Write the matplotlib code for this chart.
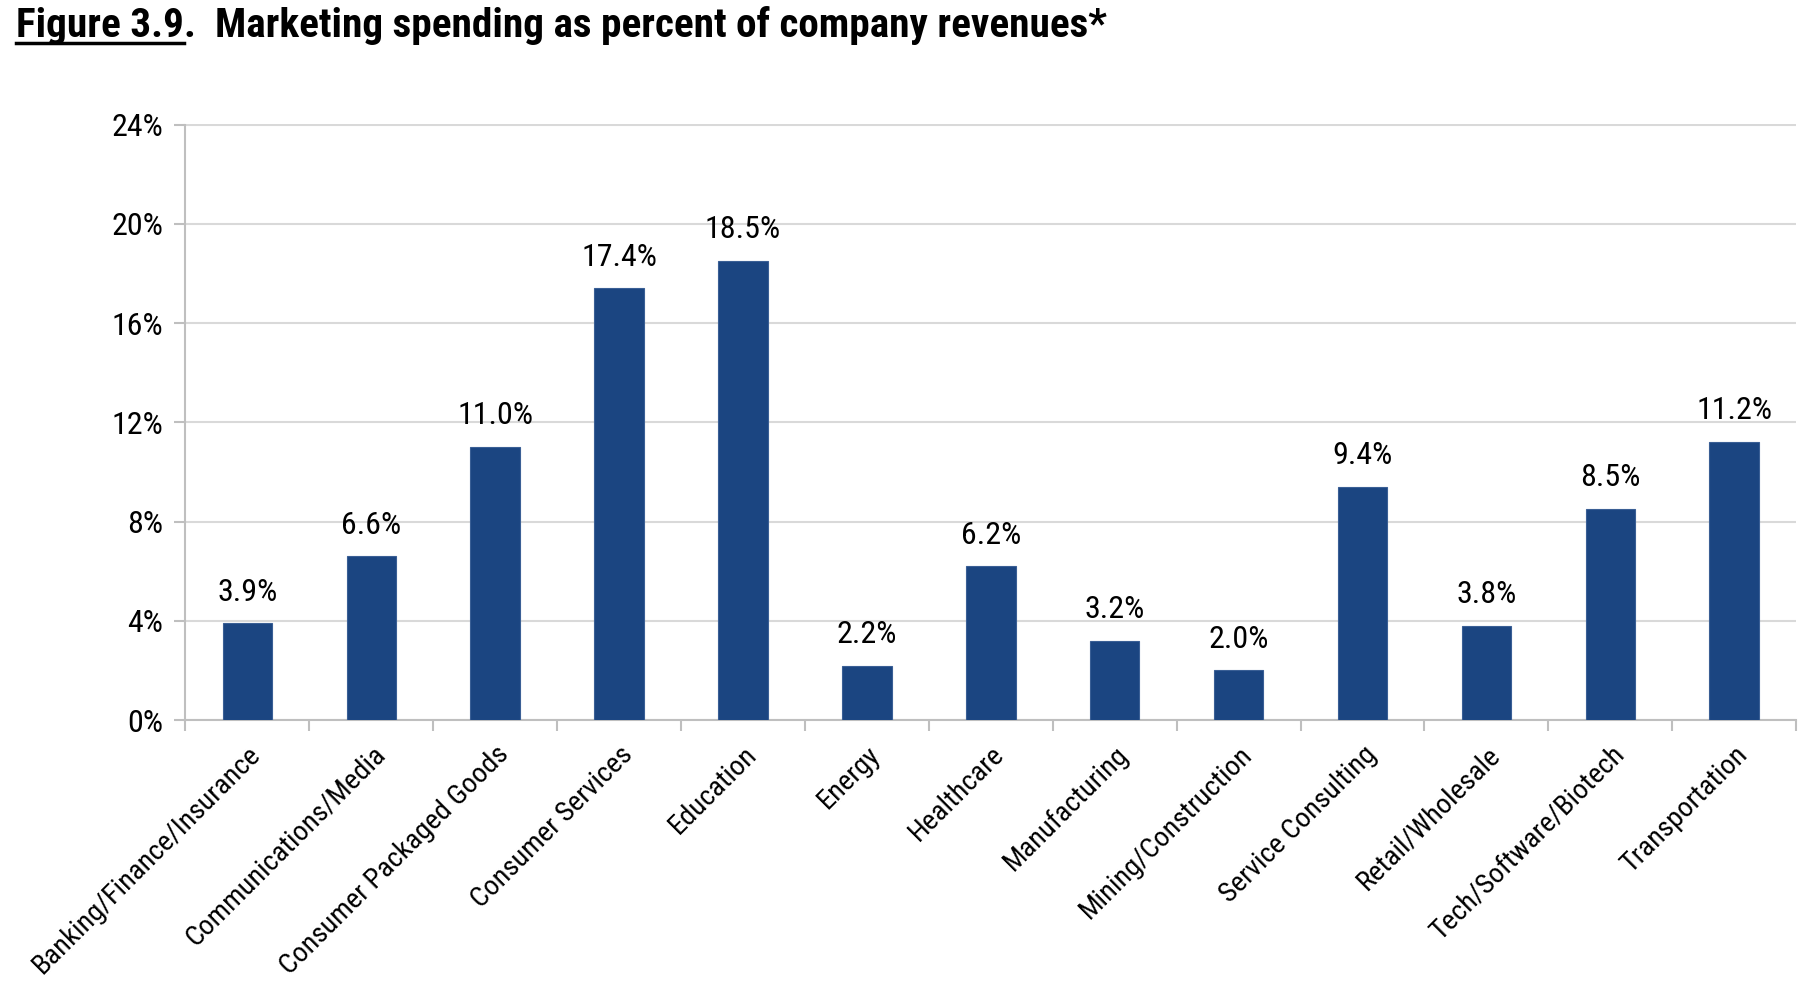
import matplotlib
matplotlib.use("Agg")
import matplotlib.pyplot as plt
from matplotlib import font_manager
from matplotlib.lines import Line2D
import numpy as np

# pick a narrow font (Arial Narrow look-alike) from what is installed
fonts = {}
for f in font_manager.fontManager.ttflist:
    fonts.setdefault(f.name, set()).add(f.weight)
body_font = next((n for n in ['Liberation Sans Narrow', 'Arial Narrow', 'Roboto Condensed',
                              'Archivo Narrow', 'Sofia Sans Condensed'] if n in fonts), 'Liberation Sans')
bold_font = next((n for n in ['Liberation Sans Narrow', 'Arial Narrow', 'Roboto Condensed',
                              'Asap Condensed', 'Sofia Sans Condensed', 'Archivo Narrow']
                  if n in fonts and max(fonts[n]) >= 700), body_font)
plt.rcParams['font.family'] = [body_font, 'DejaVu Sans']

categories = ["Banking/Finance/Insurance", "Communications/Media", "Consumer Packaged Goods",
              "Consumer Services", "Education", "Energy", "Healthcare", "Manufacturing",
              "Mining/Construction", "Service Consulting", "Retail/Wholesale",
              "Tech/Software/Biotech", "Transportation"]
values = [3.9, 6.6, 11.0, 17.4, 18.5, 2.2, 6.2, 3.2, 2.0, 9.4, 3.8, 8.5, 11.2]
y_ticks = [0, 4, 8, 12, 16, 20, 24]

bar_color = '#1b4581'
grid_color = '#d9d9d9'
axis_color = '#bfbfbf'

fig = plt.figure(figsize=(18.18, 9.96), dpi=100)
ax = fig.add_axes([0.102, 0.277, 0.886, 0.598])

x = np.arange(len(categories))
ax.bar(x, values, width=0.40, color=bar_color, edgecolor='#3a5f95', linewidth=0.8, zorder=3)

for xi, v in zip(x, values):
    ax.annotate(f"{v:.1f}%", (xi, v), xytext=(0, 12), textcoords='offset points',
                ha='center', va='bottom', fontsize=23, zorder=4)

ax.set_xlim(-0.5, len(categories) - 0.5)
ax.set_ylim(0, 24)
ax.set_yticks(y_ticks)
ax.set_yticklabels([f"{t}%" for t in y_ticks], fontsize=23)
ax.yaxis.grid(True, color=grid_color, linewidth=1.5, zorder=0)

ax.set_xticks(x)
ax.set_xticklabels(categories, rotation=45, ha='right', rotation_mode='anchor', fontsize=20.5)
ax.set_xticks(np.arange(-0.5, len(categories)), minor=True)
ax.tick_params(axis='x', which='major', length=0, pad=15)
ax.tick_params(axis='x', which='minor', length=8, color=axis_color, width=1.5)
ax.tick_params(axis='y', length=8, color=axis_color, width=1.5, pad=8)

for s in ['top', 'right']:
    ax.spines[s].set_visible(False)
for s in ['left', 'bottom']:
    ax.spines[s].set_color(axis_color)
    ax.spines[s].set_linewidth(1.5)

# title with underlined figure number, sized to span ~1090 px
W, H = fig.bbox.width, fig.bbox.height
r = fig.canvas.get_renderer()
tsize = 30
probe = fig.text(0, 0, "Figure 3.9.  Marketing spending as percent of company revenues*",
                 fontsize=tsize, fontweight='bold', family=bold_font)
tsize = tsize * 1089 / probe.get_window_extent(r).width
probe.remove()

ty = 0.963
t1 = fig.text(0.009, ty, "Figure 3.9", fontsize=tsize, fontweight='bold', family=bold_font,
              va='baseline')
bb = t1.get_window_extent(r)
fig.text(bb.x1 / W, ty, ".  Marketing spending as percent of company revenues*",
         fontsize=tsize, fontweight='bold', family=bold_font, va='baseline')
uy = (ty * H - 6) / H
fig.add_artist(Line2D([bb.x0 / W, bb.x1 / W], [uy, uy], color='black', linewidth=2.5,
                      transform=fig.transFigure))

fig.savefig("out.png", dpi=100)
